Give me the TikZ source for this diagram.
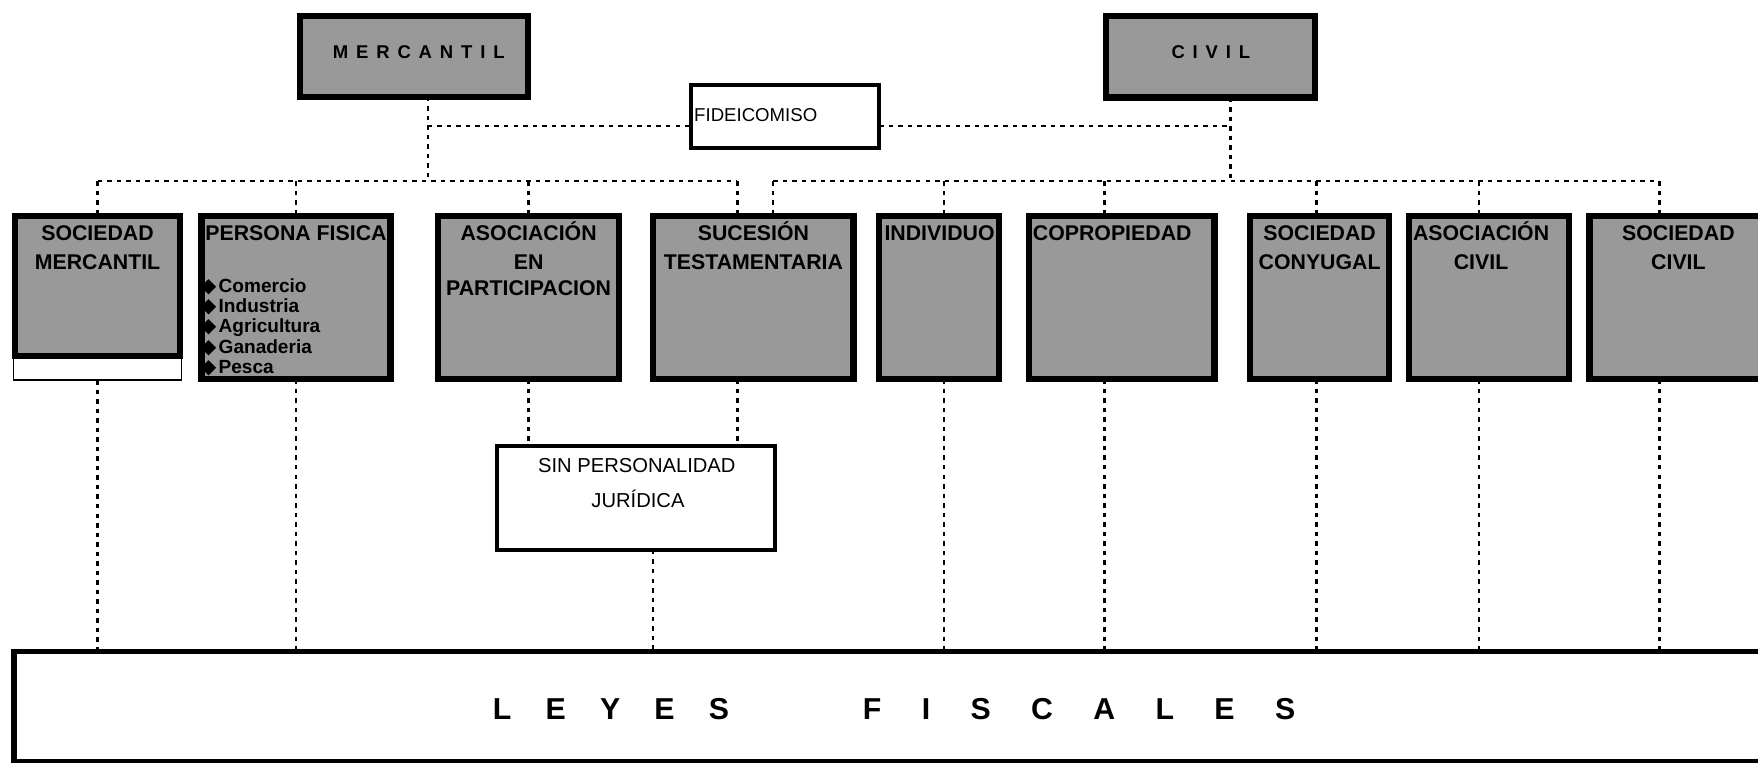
\documentclass[tikz,border=0pt]{standalone}
\usepackage{fontspec}
\setmainfont{Liberation Sans}
\newfontfamily\dejavu{DejaVu Sans}
\usetikzlibrary{calc}
\tikzset{
  dl/.style={line width=2.2pt, dash pattern=on 4pt off 4.5pt},
  texbox/.style={fill=black!40, draw=black, line width=5.5pt, inner sep=0pt, outer sep=0pt},
  rowbox/.style={texbox, minimum height=145.5pt},
  plainbox/.style={fill=white, draw=black, line width=3.6pt, inner sep=0pt, outer sep=0pt},
  ttl/.style={inner sep=0pt, anchor=base, font=\fontsize{16.5}{16.5}\selectfont\bfseries},
  lbl/.style={inner sep=0pt, anchor=base, font=\fontsize{19}{19}\selectfont\bfseries},
  item/.style={inner sep=0pt, anchor=base west, font=\fontsize{17}{17}\selectfont\bfseries},
  reg/.style={inner sep=0pt, font=\fontsize{18}{18}\selectfont},
  big/.style={inner sep=0pt, anchor=base west, font=\fontsize{27}{27}\selectfont\bfseries}
}
\newcommand\bul{{\dejavu\fontsize{18}{18}\selectfont ◆}\hspace{2pt}}
\begin{document}
\begin{tikzpicture}[x=1pt,y=-1pt]
\useasboundingbox (0,0) rectangle (1568,680);
\clip (0,0) rectangle (1568,680);

% ---------- top level ----------
\node[texbox, minimum width=203.5pt, minimum height=72.2pt] (merc) at (369.5,50.2) {};
\node[texbox, minimum width=186pt, minimum height=73pt] (civ) at (1079.75,50.5) {};
\node[plainbox, minimum width=168pt, minimum height=56.4pt] (fid) at (700.25,104) {};
\node[ttl] (mercT) at (373.5,52) {M\hspace{7pt}E\hspace{7pt}R\hspace{7pt}C\hspace{7pt}A\hspace{7pt}N\hspace{7pt}T\hspace{7pt}I\hspace{7pt}L};
\node[ttl] (civT) at (1080,52) {C\hspace{7pt}I\hspace{7pt}V\hspace{7pt}I\hspace{7pt}L};
\node[reg, anchor=base west, font=\fontsize{16.6}{16.6}\selectfont] (fidT) at (619,108) {FIDEICOMISO};

% ---------- row of boxes ----------
\node[draw=black, fill=white, line width=1.5pt, minimum width=150pt, minimum height=21pt, inner sep=0pt, outer sep=0pt] (b1s) at (87,328.5) {};
\node[texbox, minimum width=146.5pt, minimum height=124.5pt] (b1) at (87,255) {};
\node[rowbox, minimum width=168.5pt] (b2) at (264,265.5) {};
\node[rowbox, minimum width=161.5pt] (b3) at (471.5,265.5) {};
\node[rowbox, minimum width=178.5pt] (b4) at (672,265.5) {};
\node[rowbox, minimum width=107.5pt] (b5) at (837.5,265.5) {};
\node[rowbox, minimum width=165.5pt] (b6) at (1000.5,265.5) {};
\node[rowbox, minimum width=124pt] (b7) at (1176.75,265.5) {};
\node[rowbox, minimum width=142.5pt] (b8) at (1328,265.5) {};
\node[rowbox, minimum width=158.5pt] (b9) at (1497,265.5) {};

\node[lbl] (t1a) at (87,214.5) {SOCIEDAD};
\node[lbl] (t1b) at (87,240) {MERCANTIL};
\node[lbl] (t2a) at (264,214.5) {PERSONA FISICA};
\node[item] (i1) at (179,260.5) {\bul Comercio};
\node[item] (i2) at (179,278.7) {\bul Industria};
\node[item] (i3) at (179,296.9) {\bul Agricultura};
\node[item] (i4) at (179,315.1) {\bul Ganaderia};
\node[item] (i5) at (179,333.3) {\bul Pesca};
\node[lbl] (t3a) at (471.5,214.5) {ASOCIACIÓN};
\node[lbl] (t3b) at (471.5,240) {EN};
\node[lbl] (t3c) at (471.5,264) {PARTICIPACION};
\node[lbl] (t4a) at (672,214.5) {SUCESIÓN};
\node[lbl] (t4b) at (672,240) {TESTAMENTARIA};
\node[lbl] (t5a) at (838,214.5) {INDIVIDUO};
\node[lbl] (t6a) at (992,214.5) {COPROPIEDAD};
\node[lbl] (t7a) at (1177,214.5) {SOCIEDAD};
\node[lbl] (t7b) at (1177,240) {CONYUGAL};
\node[lbl] (t8a) at (1321,214.5) {ASOCIACIÓN};
\node[lbl] (t8b) at (1321,240) {CIVIL};
\node[lbl] (t9a) at (1497,214.5) {SOCIEDAD};
\node[lbl] (t9b) at (1497,240) {CIVIL};

% ---------- lower boxes ----------
\node[plainbox, minimum width=248pt, minimum height=92.5pt] (sin) at (567,444.25) {};
\node[reg, anchor=base] (sinA) at (568,421.3) {SIN PERSONALIDAD};
\node[reg, anchor=base] (sinB) at (569,452.5) {JURÍDICA};

\node[draw=black, fill=white, line width=4.5pt, minimum width=1587.5pt, minimum height=98pt, inner sep=0pt, outer sep=0pt, anchor=north west] (ley) at (12.5,581) {};
\node[big] (leyA) at (439.5,642) {L\hspace{30.5pt}E\hspace{30.5pt}Y\hspace{30.5pt}E\hspace{30.5pt}S};
\node[big] (leyB) at (769.5,642) {F\hspace{36pt}I\hspace{36pt}S\hspace{36pt}C\hspace{36pt}A\hspace{36pt}L\hspace{36pt}E\hspace{36pt}S};

% ---------- junction coordinates ----------
\coordinate (bar) at (0,161.5);
\coordinate (fh) at (0,112.4);
\coordinate (mv) at (381.5,0);
\coordinate (cv) at (1097.4,0);
\coordinate (d4a) at (657.6,0);
\coordinate (d4b) at (689.5,0);
\coordinate (d5) at (842,0);
\coordinate (d6) at (985,0);
\coordinate (d7) at (1174,0);
\coordinate (d8) at (1319,0);
\coordinate (d9) at (1480,0);
\coordinate (sv) at (582.5,0);

% ---------- connectors ----------
\draw[dl] (mv |- merc.south) -- (mv |- bar);
\draw[dl] (mv |- fh) -- (fid.west |- fh);
\draw[dl] (fid.east |- fh) -- (cv |- fh);
\draw[dl] (cv |- civ.south) -- (cv |- bar);
\draw[dl] (b1.north |- bar) -- (d4a |- bar);
\draw[dl] (d4b |- bar) -- (d9 |- bar);

\draw[dl] (b1.north |- bar) -- (b1.north);
\draw[dl] (b2.north |- bar) -- (b2.north);
\draw[dl] (b3.north |- bar) -- (b3.north);
\foreach \c/\b in {d4a/b4, d4b/b4, d5/b5, d6/b6, d7/b7, d8/b8, d9/b9}
  \draw[dl] (\c |- bar) -- (\c |- \b.north);

\draw[dl] (b1s.south) -- (b1s.south |- ley.north);
\draw[dl] (b2.south) -- (b2.south |- ley.north);
\draw[dl] (b3.south) -- (b3.south |- sin.north);
\draw[dl] (d4a |- b4.south) -- (d4a |- sin.north);
\draw[dl] (sv |- sin.south) -- (sv |- ley.north);
\foreach \c/\b in {d5/b5, d6/b6, d7/b7, d8/b8, d9/b9}
  \draw[dl] (\c |- \b.south) -- (\c |- ley.north);
\end{tikzpicture}
\end{document}
